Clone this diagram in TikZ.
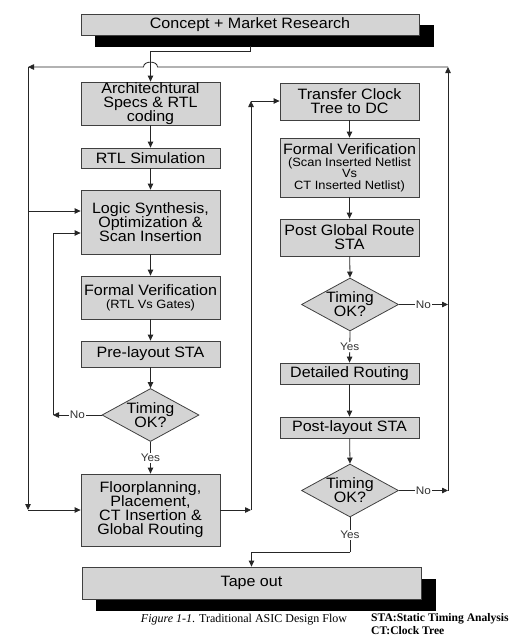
\documentclass[tikz,border=0pt]{standalone}
\usepackage{fontspec}
\setmainfont{Liberation Sans}
\newfontfamily\bxfam[FakeStretch=1.07]{Liberation Sans}
\newfontfamily\capfam{Liberation Serif}
\newcommand\bxfont{\bxfam\fontsize{15}{14}\selectfont}
\newcommand\smfont{\bxfam\fontsize{12}{11.5}\selectfont}
\usetikzlibrary{arrows.meta,shapes.geometric,calc}
\begin{document}
\begin{tikzpicture}[x=1pt,y=-1pt,
  box/.style={draw=black!75, fill=black!17, line width=0.8pt, align=center,
    inner sep=0pt, minimum width=139pt, font=\bxfont},
  shbox/.style={fill=black, draw=black, inner sep=0pt},
  dec/.style={diamond, draw=black!75, fill=black!17, line width=0.8pt, aspect=1.83,
    minimum width=97pt, minimum height=53pt, inner sep=0pt, align=center, font=\bxfont},
  ln/.style={line width=0.8pt, draw=black!85},
  arr/.style={ln, -{Triangle[length=6pt,width=5.5pt]}},
  lab/.style={fill=white, inner sep=1.2pt, font=\bxfam\fontsize{11}{11}\selectfont, text=black!80}]
\useasboundingbox (0,0) rectangle (531,640);
% top and bottom boxes with shadows
\node[shbox, minimum width=338pt, minimum height=20.5pt] (conceptsh) at (264,35.75) {};
\node[box, minimum width=338pt, minimum height=21pt] (concept) at (250,24.5) {Concept + Market Research};
\node[shbox, minimum width=339pt, minimum height=31pt] (tapesh) at (265.5,594.5) {};
\node[box, minimum width=339pt, minimum height=32pt] (tape) at (251.5,583) {Tape out};
% left column
\node[box, minimum height=43pt] (arch) at (150.5,103.5) {Architechtural\\Specs \& RTL\\coding};
\node[box, minimum height=20pt] (rtlsim) at (150.5,158) {RTL Simulation};
\node[box, minimum height=64pt] (logic) at (150.5,222) {Logic Synthesis,\\Optimization \&\\Scan Insertion};
\node[box, minimum height=43pt] (fv1) at (150.5,297.5) {Formal Verification\\[-1pt]{\smfont (RTL Vs Gates)}};
\node[box, minimum height=26pt] (pre) at (150.5,354) {Pre-layout STA};
\node[dec] (d1) at (150.5,415) {Timing\\OK?};
\node[box, minimum height=72pt] (fp) at (150.5,510) {Floorplanning,\\Placement,\\CT Insertion \&\\Global Routing};
% right column
\node[box, minimum height=37pt] (transfer) at (349.5,101.5) {Transfer Clock\\Tree to DC};
\node[box, minimum height=59pt] (fv2) at (349.5,167.5) {Formal Verification\\[-2pt]{\smfont (Scan Inserted Netlist}\\[-2.5pt]{\smfont Vs}\\[-2.5pt]{\smfont CT Inserted Netlist)}};
\node[box, minimum height=37pt] (pgr) at (349.5,237.5) {Post Global Route\\STA};
\node[dec] (d2) at (350,304.5) {Timing\\OK?};
\node[box, minimum height=21pt] (dr) at (349.5,373.5) {Detailed Routing};
\node[box, minimum height=21pt] (pl) at (349.5,427.5) {Post-layout STA};
\node[dec] (d3) at (350,490.5) {Timing\\OK?};
% helper coordinates
\coordinate (rtop) at (448,67);
\coordinate (ltop) at (28,67);
\coordinate (lbot) at (28,510);
\coordinate (lmid) at (28,211);
\coordinate (nl) at (53,415);
\coordinate (nl2) at (53,233);
\coordinate (m1) at (251,510);
\coordinate (m2) at (251,101);
\coordinate (t1) at (350,552);
% main flow
\draw[arr] (conceptsh.south -| concept.south) -- ++(0,5) -| (arch.north);
\draw[arr] (arch) -- (rtlsim);
\draw[arr] (rtlsim) -- (logic);
\draw[arr] (logic) -- (fv1);
\draw[arr] (fv1) -- (pre);
\draw[arr] (pre) -- (d1.north);
\draw[arr] (d1.south) -- node[lab]{Yes} (fp.north);
\draw[arr] (d1.west) -- node[lab]{No} (nl);
\draw[arr] (nl) -- (nl2) -- (nl2 -| logic.west);
\draw[arr] (fp.east |- m1) -- (m1);
\draw[arr] (m1) -- (m2);
\draw[arr] (m2) -- (m2 -| transfer.west);
\draw[arr] (transfer) -- (fv2);
\draw[arr] (fv2) -- (pgr);
\draw[arr] (pgr) -- (d2.north);
\draw[arr] (d2.east) -- node[lab]{No} (d2.east -| rtop);
\draw[arr] (d2.south) -- node[lab]{Yes} (dr.north);
\draw[arr] (dr) -- (pl);
\draw[arr] (pl) -- (d3.north);
\draw[arr] (d3.east) -- node[lab]{No} (d3.east -| rtop);
\draw[ln] (d3.south) -- node[lab]{Yes} (t1);
\draw[arr] (t1) -| (tape.north);
% feedback loop
\draw[arr] (d3.east -| rtop) -- (rtop);
\draw[arr] (rtop) -- (157.5,67) .. controls (157.5,60.5) and (143.5,60.5) .. (143.5,67) -- (ltop);
\draw[arr] (ltop) -- (lbot);
\draw[arr] (lbot) -- (lbot -| fp.west);
\draw[arr] (lmid) -- (lmid -| logic.west);
% captions
\node[inner sep=0pt, font=\capfam\fontsize{12}{13}\selectfont] (cap) at (244,620) {\textit{Figure 1-1}. Traditional ASIC Design Flow};
\node[anchor=west, inner sep=0pt, align=left, font=\capfam\bfseries\fontsize{11.6}{13}\selectfont] (leg) at (371,624.5) {STA:Static Timing Analysis\\CT:Clock Tree};
\end{tikzpicture}
\end{document}
